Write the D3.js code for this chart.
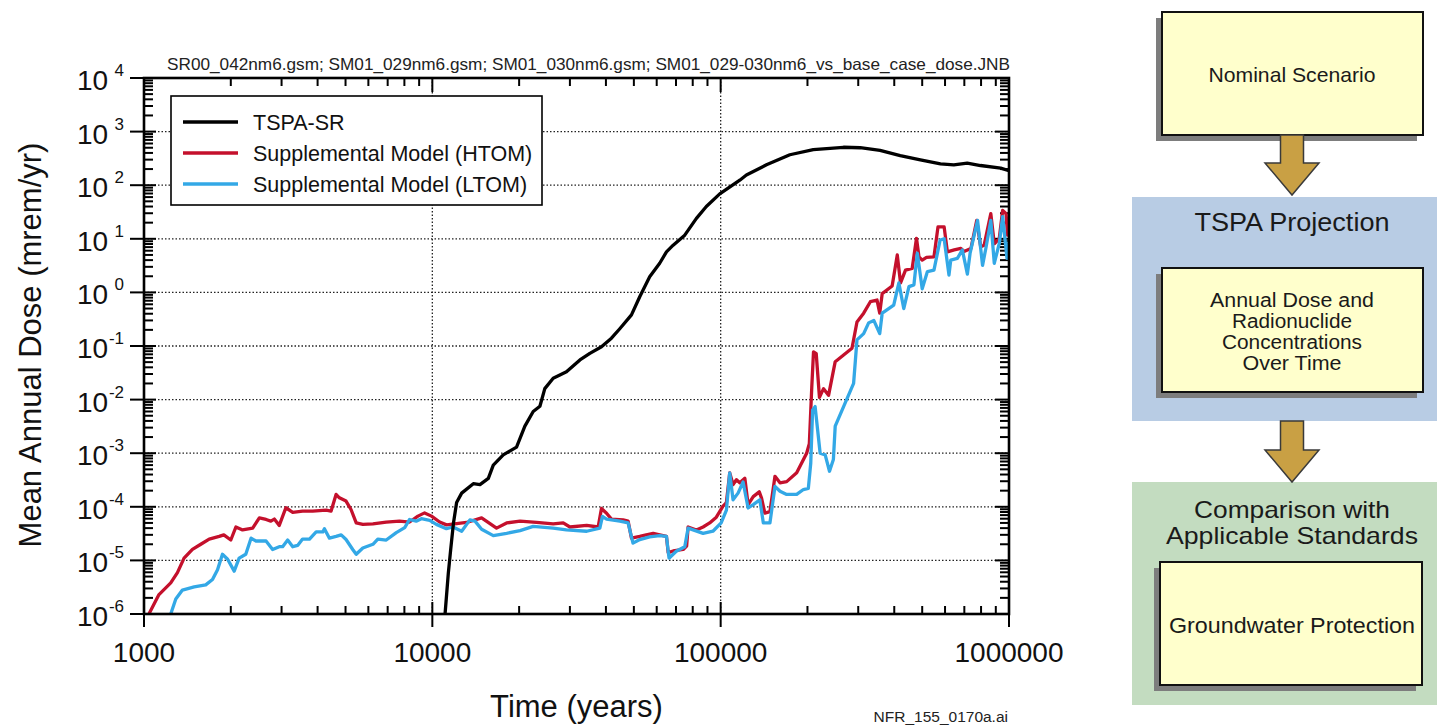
<!DOCTYPE html>
<html><head><meta charset="utf-8">
<script src="https://cdn.jsdelivr.net/npm/d3@7"></script>
<style>
html,body{margin:0;padding:0;background:#fff;}
svg{display:block;font-family:"Liberation Sans",Arial,Helvetica,sans-serif;}
</style></head>
<body>
<svg id="c" width="1437" height="728"></svg>
<script>
// ---------- DATA ----------
const tspaYears = [11000,11070,11360,11580,11840,12140,12640,13870,14630,15640,16270,17620,19590,20940,22380,23610,24550,26250,29190,32500,35180,38610,41800,44680,49050,52400,56730,61450,64860,68430,75060,82390,89180,99270,116500,122800,144200,173800,209500,266500,304700,357100,419500,492800,578600,643600,716300,796600,935600,1000000];
const tspaDose  = [8e-7,1e-6,5.7e-6,1.6e-5,5e-5,1.2e-4,1.8e-4,2.7e-4,2.6e-4,3.4e-4,6.0e-4,9.3e-4,1.3e-3,3.2e-3,6.0e-3,7.5e-3,0.016,0.025,0.033,0.055,0.073,0.097,0.14,0.21,0.38,0.83,1.96,3.5,5.7,7.6,11.7,24,40,69,124,155,240,370,460,510,500,445,355,296,251,240,257,233,208,187];

const htomYears = [1040,1127,1238,1306,1377,1472,1574,1683,1823,1892,2000,2083,2197,2382,2512,2650,2754,2831,2945,3105,3280,3548,3845,4283,4455,4636,4760,5020,5224,5445,5740,6223,6920,7690,8340,8914,9400,9933,10600,11200,13150,14820,16700,18100,20150,22970,26250,28440,30000,34300,37590,38600,40200,41800,45900,47750,49050,52400,55200,58350,61450,64860,65760,68430,74130,76200,77100,82400,86900,91600,96600,101900,104700,107500,110400,113400,116500,121300,124500,129700,136100,138600,142300,148200,154300,160600,169400,183500,198700,203000,207000,209900,214500,220100,227400,236700,249600,266900,285400,297000,313300,330500,348600,356200,363300,393300,409700,420600,437600,461500,477700,487300,500000,517400,549200,567200,595700,611400,645700,680900,698000,737800,773000,797600,820000,864800,889000,925000,950800,977000,988000,1000000];
const htomDose  = [1.0e-6,2.3e-6,3.8e-6,5.9e-6,1.1e-5,1.6e-5,2.0e-5,2.5e-5,2.8e-5,3.0e-5,2.4e-5,4.2e-5,3.7e-5,4.0e-5,6.2e-5,5.8e-5,5.4e-5,5.9e-5,4.5e-5,9.6e-5,7.9e-5,8.3e-5,8.3e-5,8.7e-5,8.3e-5,1.7e-4,1.47e-4,1.28e-4,8.9e-5,5.0e-5,4.7e-5,4.8e-5,5.2e-5,5.4e-5,5.2e-5,6.7e-5,7.7e-5,6.7e-5,5.2e-5,4.6e-5,5.1e-5,6.2e-5,4.0e-5,5.0e-5,5.4e-5,5.1e-5,4.8e-5,5.0e-5,4.2e-5,4.5e-5,4.2e-5,9.3e-5,7.6e-5,5.9e-5,5.7e-5,5.4e-5,2.6e-5,2.8e-5,3.0e-5,3.2e-5,3.0e-5,2.8e-5,1.4e-5,1.5e-5,1.6e-5,1.85e-5,4.2e-5,3.7e-5,4.2e-5,5.0e-5,6.4e-5,1.03e-4,1.2e-4,4.3e-4,2.6e-4,3.2e-4,2.8e-4,3.4e-4,1.1e-4,1.55e-4,1.9e-4,1.45e-4,7.6e-5,8.1e-5,3.7e-4,2.8e-4,2.95e-4,4.3e-4,1.0e-3,1.5e-3,1.7e-2,7.8e-2,7.2e-2,1.1e-2,1.6e-2,1.2e-2,5.1e-2,6.8e-2,9.1e-2,0.28,0.41,0.67,0.72,0.41,0.95,1.32,5.0,1.5,2.6,2.8,10.2,4.6,4.0,4.5,4.6,16.7,16.7,5.7,6.2,6.6,5.8,6.6,22,7.1,7.6,29.5,8.1,10,34,29.5,11.7,12.6];

const ltomYears = [1238,1289,1359,1493,1637,1728,1799,1871,1950,2055,2138,2254,2351,2445,2650,2793,2945,3025,3150,3280,3410,3548,3750,3954,4170,4224,4397,4636,4830,5020,5296,5445,5740,6223,6470,6920,7500,8020,8340,8790,9160,9790,10330,11190,11800,12640,13500,14060,14820,16270,18100,20150,22380,26250,29190,34300,38100,38900,40200,44700,47750,49650,52400,56730,61450,64860,66200,70150,75060,77100,86900,94000,100400,104700,107500,110400,114900,119600,124500,129700,136700,140600,148200,154300,160600,169400,183500,193600,201400,205300,208400,212600,221300,230400,238500,246000,249600,266900,289100,297000,313300,326000,339700,356200,363300,398300,415000,431500,449800,468000,480800,500000,521300,549200,576900,595700,619200,628000,662000,689000,717300,733000,778000,809600,831000,864800,889000,925000,950800,984000,1000000];
const ltomDose  = [1.0e-6,1.9e-6,2.8e-6,3.2e-6,3.5e-6,4.4e-6,6.7e-6,1.3e-5,1.05e-5,6.3e-6,1.1e-5,1.3e-5,2.6e-5,2.3e-5,2.3e-5,1.6e-5,1.8e-5,1.8e-5,2.4e-5,1.8e-5,1.9e-5,2.5e-5,2.5e-5,3.4e-5,3.4e-5,3.9e-5,2.6e-5,2.8e-5,3.0e-5,2.45e-5,1.6e-5,1.3e-5,1.7e-5,2.0e-5,2.5e-5,2.4e-5,3.3e-5,4.1e-5,5.8e-5,5.4e-5,6.0e-5,5.6e-5,4.7e-5,3.9e-5,4.2e-5,3.5e-5,5.7e-5,5.4e-5,3.8e-5,2.9e-5,3.2e-5,3.6e-5,4.3e-5,4.0e-5,3.7e-5,3.5e-5,4.0e-5,6.6e-5,5.9e-5,5.4e-5,5.0e-5,2.1e-5,2.45e-5,2.75e-5,2.9e-5,2.8e-5,1.1e-5,1.48e-5,1.8e-5,4.0e-5,3.2e-5,3.5e-5,5.0e-5,8.7e-5,4.3e-4,1.35e-4,1.8e-4,2.9e-4,9.5e-5,1.1e-4,1.35e-4,5.0e-5,5.0e-5,2.4e-4,1.95e-4,1.7e-4,1.7e-4,2.1e-4,2.2e-4,6.5e-4,6.4e-3,7.4e-3,1.0e-3,9.3e-4,4.6e-4,7.6e-4,3.2e-3,7.4e-3,2.0e-2,0.13,0.17,0.27,0.30,0.17,0.41,0.58,1.5,0.50,1.28,1.38,5.4,1.17,2.45,2.6,9.5,10,2.1,4.0,4.3,6.2,2.2,5.4,22,3.2,6.6,22,3.5,8.1,26,4.3,8.7];

const seriesNames = ["TSPA-SR","Supplemental Model (HTOM)","Supplemental Model (LTOM)"];
const seriesColors = ["#000000","#c4102c","#33a8e6"];

const xTickValues = [1000,10000,100000,1000000];
const xTickLabels = ["1000","10000","100000","1000000"];
const yExponents = [-6,-5,-4,-3,-2,-1,0,1,2,3,4];

const titleText = "SR00_042nm6.gsm; SM01_029nm6.gsm; SM01_030nm6.gsm; SM01_029-030nm6_vs_base_case_dose.JNB";
const xTitle = "Time (years)";
const yTitle = "Mean Annual Dose (mrem/yr)";
const footText = "NFR_155_0170a.ai";

const flowTop = "Nominal Scenario";
const flowMidTitle = "TSPA Projection";
const flowMidLines = ["Annual Dose and","Radionuclide","Concentrations","Over Time"];
const flowBotTitle = ["Comparison with","Applicable Standards"];
const flowBotBox = "Groundwater Protection";

// ---------- CHART ----------
const svg = d3.select("#c");
const L=144, R=1009, T=78, B=614;
const x = d3.scaleLog().domain([1000,1e6]).range([L,R]);
const y = d3.scaleLog().domain([1e-6,1e4]).range([B,T]);

svg.append("defs").append("clipPath").attr("id","plotclip")
  .append("rect").attr("x",L).attr("y",T).attr("width",R-L).attr("height",B-T);

// grid
const g = svg.append("g");
const gridY = yExponents.slice(1,-1).map(e=>Math.pow(10,e));
g.selectAll(".gy").data(gridY).enter().append("line")
  .attr("x1",L).attr("x2",R).attr("y1",d=>y(d)).attr("y2",d=>y(d))
  .attr("stroke","#222").attr("stroke-width",1.3).attr("stroke-dasharray","1.5,2");
g.selectAll(".gx").data(xTickValues.slice(1,-1)).enter().append("line")
  .attr("y1",T).attr("y2",B).attr("x1",d=>x(d)).attr("x2",d=>x(d))
  .attr("stroke","#222").attr("stroke-width",1.3).attr("stroke-dasharray","1.5,2");

// minor tick values
const xMinor=[]; for(let e=3;e<6;e++) for(let k=2;k<10;k++) xMinor.push(k*Math.pow(10,e));
const yMinor=[]; for(let e=-6;e<4;e++) for(let k=2;k<10;k++) yMinor.push(k*Math.pow(10,e));
const yMajor = yExponents.map(e=>Math.pow(10,e));

const tk = svg.append("g").attr("stroke","#000").attr("stroke-width",2);
tk.selectAll(".bm").data(xMinor).enter().append("line")
  .attr("x1",d=>x(d)).attr("x2",d=>x(d)).attr("y1",B).attr("y2",B-8);
tk.selectAll(".bM").data(xTickValues).enter().append("line")
  .attr("x1",d=>x(d)).attr("x2",d=>x(d)).attr("y1",B+13).attr("y2",B-12);
tk.selectAll(".tm").data(xMinor).enter().append("line")
  .attr("x1",d=>x(d)).attr("x2",d=>x(d)).attr("y1",T).attr("y2",T+8);
tk.selectAll(".tM").data(xTickValues).enter().append("line")
  .attr("x1",d=>x(d)).attr("x2",d=>x(d)).attr("y1",T).attr("y2",T+14);
tk.selectAll(".lm").data(yMinor).enter().append("line")
  .attr("y1",d=>y(d)).attr("y2",d=>y(d)).attr("x1",L).attr("x2",L+9);
tk.selectAll(".lM").data(yMajor).enter().append("line")
  .attr("y1",d=>y(d)).attr("y2",d=>y(d)).attr("x1",L-14).attr("x2",L+12);
tk.selectAll(".rm").data(yMinor).enter().append("line")
  .attr("y1",d=>y(d)).attr("y2",d=>y(d)).attr("x1",R).attr("x2",R-9);
tk.selectAll(".rM").data(yMajor).enter().append("line")
  .attr("y1",d=>y(d)).attr("y2",d=>y(d)).attr("x1",R).attr("x2",R-14);

// series
const line = d3.line().x(d=>x(d[0])).y(d=>y(d[1]));
const sData = [
  d3.zip(tspaYears,tspaDose),
  d3.zip(htomYears,htomDose),
  d3.zip(ltomYears,ltomDose)
];
const plotG = svg.append("g").attr("clip-path","url(#plotclip)");
[1,2,0].forEach(i=>{
  plotG.append("path").datum(sData[i]).attr("d",line)
    .attr("fill","none").attr("stroke",seriesColors[i]).attr("stroke-width",3.3)
    .attr("stroke-linejoin","round").attr("stroke-linecap","round");
});

// frame
svg.append("rect").attr("x",L).attr("y",T).attr("width",R-L).attr("height",B-T)
  .attr("fill","none").attr("stroke","#000").attr("stroke-width",2.6);

// x tick labels
svg.selectAll(".xl").data(xTickValues).enter().append("text")
  .attr("x",d=>x(d)).attr("y",662).attr("text-anchor","middle")
  .attr("font-size",28).attr("fill","#111").text((d,i)=>xTickLabels[i]);

// y tick labels
const yl = svg.append("g").attr("fill","#111");
yl.selectAll(".yb").data(yExponents).enter().append("text")
  .attr("x",77).attr("y",e=>y(Math.pow(10,e))+12).attr("font-size",28).text("10");
yl.selectAll(".ye").data(yExponents).enter().append("text")
  .attr("x",124).attr("y",e=>y(Math.pow(10,e))-2).attr("text-anchor","end")
  .attr("font-size",17).text(e=>e<0?("-"+(-e)):String(e));

// titles
svg.append("text").attr("x",1010).attr("y",70).attr("text-anchor","end")
  .attr("font-size",16.5).attr("fill","#222").attr("textLength",843)
  .attr("lengthAdjust","spacingAndGlyphs").text(titleText);
svg.append("text").attr("x",(L+R)/2).attr("y",717).attr("text-anchor","middle")
  .attr("font-size",31).attr("fill","#111").text(xTitle);
svg.append("text").attr("transform","translate(41,345) rotate(-90)")
  .attr("text-anchor","middle").attr("font-size",31).attr("fill","#111").text(yTitle);
svg.append("text").attr("x",1008).attr("y",722).attr("text-anchor","end")
  .attr("font-size",15.5).attr("fill","#222").text(footText);

// legend
const lg = svg.append("g");
lg.append("rect").attr("x",171).attr("y",96).attr("width",371).attr("height",109)
  .attr("fill","#fff").attr("stroke","#000").attr("stroke-width",1.6);
const legRows = [122,153,184];
seriesNames.forEach((n,i)=>{
  lg.append("line").attr("x1",183).attr("x2",238).attr("y1",legRows[i]).attr("y2",legRows[i])
    .attr("stroke",seriesColors[i]).attr("stroke-width",3.3);
  lg.append("text").attr("x",253).attr("y",legRows[i]+7.5).attr("font-size",21.5)
    .attr("fill","#111").text(n);
});

// ---------- FLOW DIAGRAM ----------
const fg = svg.append("g");
const cx = 1292;
function box(x0,y0,w,h){
  fg.append("rect").attr("x",x0-6).attr("y",y0+6).attr("width",w).attr("height",h).attr("fill","#7d7d7d");
  fg.append("rect").attr("x",x0).attr("y",y0).attr("width",w).attr("height",h)
    .attr("fill","#ffffcc").attr("stroke","#111").attr("stroke-width",2);
}
function arrow(top,headStart,tip){
  const p = d3.path();
  p.moveTo(cx-11.5,top); p.lineTo(cx+11.5,top); p.lineTo(cx+11.5,headStart);
  p.lineTo(cx+27,headStart); p.lineTo(cx,tip); p.lineTo(cx-27,headStart);
  p.lineTo(cx-11.5,headStart); p.closePath();
  fg.append("path").attr("d",p.toString()).attr("fill","#c9a044")
    .attr("stroke","#3a3a3a").attr("stroke-width",1.5).attr("stroke-linejoin","miter");
}
function txt(s,yc,fs,w){
  const t = fg.append("text").attr("x",cx).attr("y",yc).attr("dy","0.36em").attr("text-anchor","middle")
    .attr("font-size",fs).attr("fill","#1a1a1a").text(s);
  if(w) t.attr("textLength",w).attr("lengthAdjust","spacingAndGlyphs");
}
fg.append("rect").attr("x",1132).attr("y",197).attr("width",305).attr("height",224).attr("fill","#b8cce4");
fg.append("rect").attr("x",1132).attr("y",482).attr("width",305).attr("height",223).attr("fill","#c3dcc0");
box(1162,12,261,123);
txt(flowTop,74,21,167);
arrow(135,163,195);
txt(flowMidTitle,222,26,195);
box(1162,268,261,124);
const midW = [164,120,140,99];
flowMidLines.forEach((s,i)=>txt(s,300+i*21,19.5,midW[i]));
arrow(421,450,482);
const botW = [196,252];
flowBotTitle.forEach((s,i)=>txt(s,509+i*26,24,botW[i]));
box(1160,562,262,123);
txt(flowBotBox,625,22,246);
</script>
</body></html>
